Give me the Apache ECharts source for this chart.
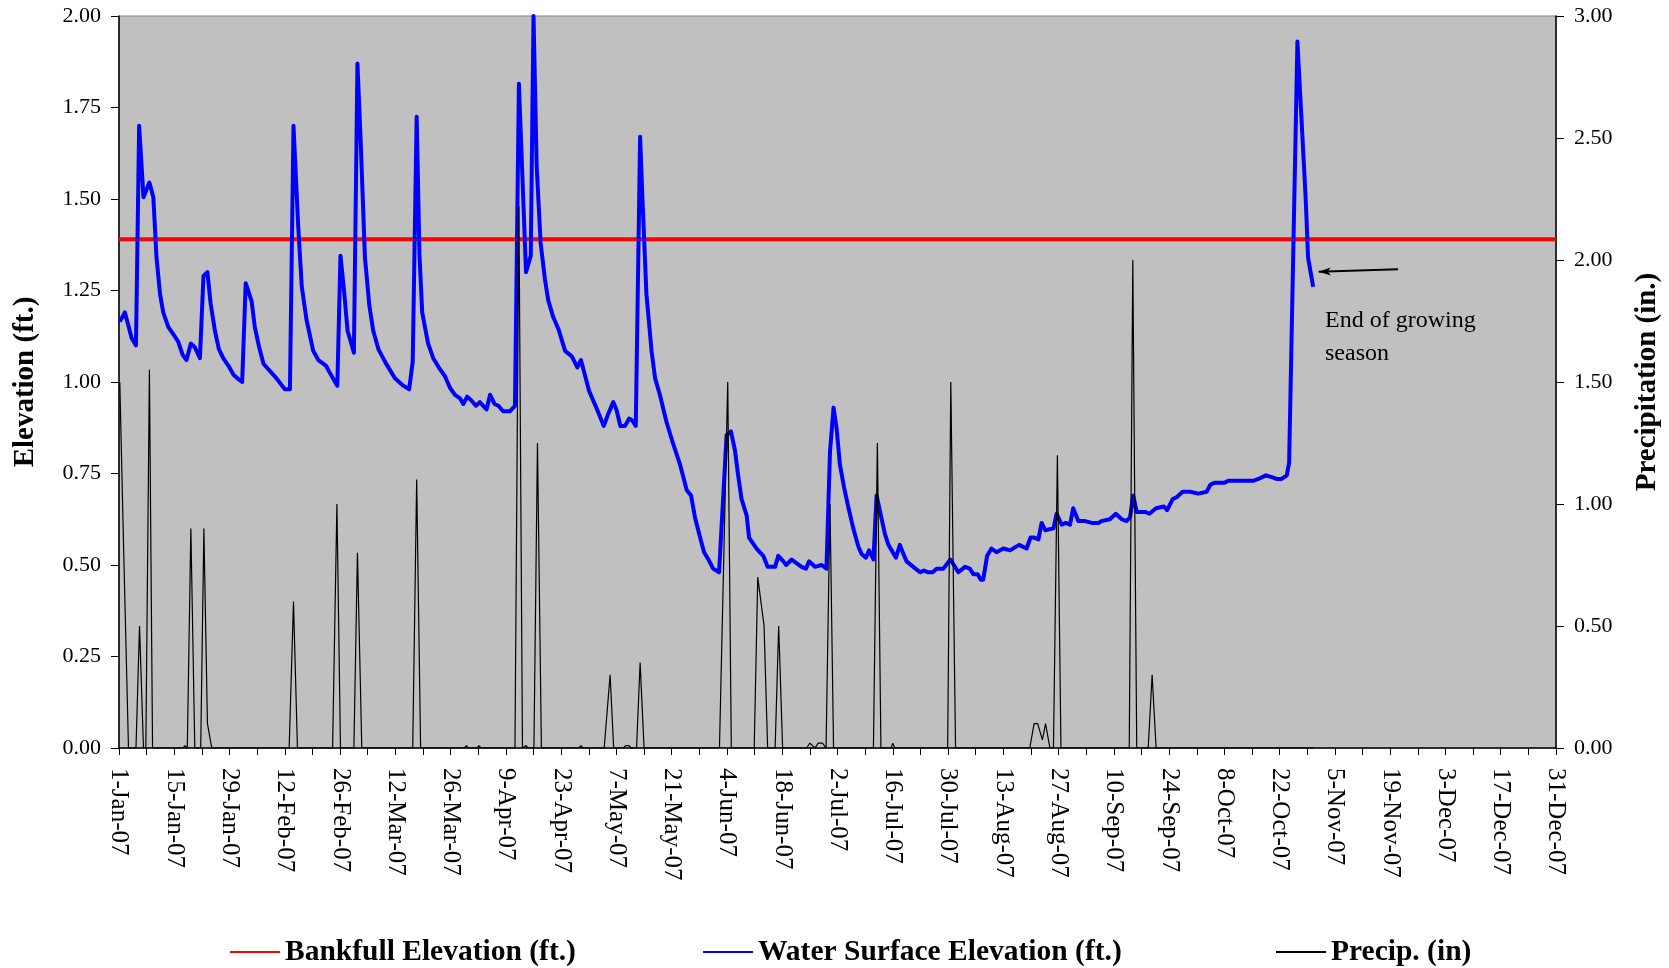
<!DOCTYPE html>
<html>
<head>
<meta charset="utf-8">
<script src="https://cdn.jsdelivr.net/npm/echarts@6/dist/echarts.min.js"></script>
<style>html,body{margin:0;padding:0;background:#fff;}#c{width:1669px;height:968px;}</style>
</head>
<body>
<div id="c"></div>
<script>
// Day-of-year (0 = 1-Jan-07) and values
const wseDay = [0.2,1.5,3.2,4.3,5.1,6.2,7.7,8.7,9.5,10.4,11.2,12.5,13.8,15.0,16.1,17.1,18.2,19.2,20.5,21.4,22.4,23.2,24.3,25.3,26.4,27.7,29.0,30.0,31.2,32.1,33.6,34.4,35.5,36.6,37.8,39.9,42.0,43.3,44.2,45.4,46.3,47.5,49.2,50.5,52.4,53.4,55.3,56.1,57.0,57.9,59.5,60.4,61.3,62.3,63.4,64.4,65.7,67.4,69.9,72.0,73.5,74.4,75.4,76.1,76.8,78.3,79.6,81.3,82.6,83.8,85.1,86.4,87.2,88.2,89.2,90.4,91.4,93.1,94.0,95.1,96.1,97.3,99.0,100.3,101.3,103.1,104.3,105.0,105.8,106.8,107.9,108.7,109.9,111.3,113.0,114.7,116.1,117.0,118.0,119.1,121.1,122.8,124.0,125.2,126.0,127.0,128.2,129.2,130.0,130.9,132.0,132.6,133.6,134.9,135.8,137.0,138.7,140.4,142.1,143.8,144.9,145.9,147.2,148.2,149.3,150.5,152.0,152.4,153.9,155.0,156.0,156.9,157.7,159.0,159.6,161.5,163.2,164.3,166.2,167.0,168.3,169.0,170.4,171.6,172.9,174.0,174.8,176.3,178.0,179.2,180.1,181.0,181.8,182.6,183.7,184.8,186.0,187.3,188.1,189.2,190.0,191.1,191.9,192.9,194.0,194.9,195.7,196.8,197.8,198.7,199.5,201.2,202.9,203.9,205.0,206.1,207.1,208.8,210.6,212.6,214.3,215.5,216.4,217.5,218.3,218.9,219.9,221.0,222.3,224.0,225.7,228.0,229.9,230.9,231.8,232.9,233.7,234.6,236.7,237.5,238.8,239.8,240.9,241.7,243.0,244.7,246.4,248.1,248.9,251.0,252.5,254.0,255.2,256.1,256.9,257.8,259.9,261.0,262.7,264.7,265.5,266.9,267.9,269.4,271.3,273.4,275.5,276.5,277.6,280.1,281.0,287.3,288.6,290.5,292.0,293.2,294.5,295.8,296.4,296.8,298.5,300.6,301.2,302.5];
const wseFt = [1.165,1.19,1.12,1.10,1.70,1.505,1.545,1.505,1.34,1.24,1.19,1.15,1.13,1.11,1.075,1.06,1.105,1.095,1.065,1.29,1.30,1.215,1.14,1.09,1.065,1.045,1.02,1.01,1.00,1.27,1.22,1.15,1.095,1.05,1.035,1.01,0.98,0.98,1.70,1.425,1.26,1.17,1.085,1.06,1.045,1.025,0.99,1.345,1.25,1.14,1.08,1.87,1.635,1.34,1.21,1.14,1.09,1.055,1.01,0.99,0.98,1.055,1.725,1.35,1.19,1.105,1.065,1.035,1.015,0.985,0.965,0.955,0.94,0.96,0.95,0.935,0.945,0.925,0.965,0.94,0.935,0.92,0.92,0.935,1.815,1.30,1.345,2.00,1.59,1.38,1.28,1.225,1.18,1.145,1.085,1.07,1.04,1.06,1.02,0.975,0.925,0.88,0.915,0.945,0.925,0.88,0.88,0.90,0.895,0.88,1.67,1.50,1.24,1.085,1.01,0.965,0.89,0.83,0.775,0.705,0.69,0.63,0.575,0.535,0.515,0.49,0.48,0.48,0.855,0.865,0.815,0.74,0.68,0.635,0.575,0.545,0.525,0.495,0.495,0.525,0.51,0.50,0.515,0.505,0.495,0.49,0.51,0.495,0.50,0.49,0.81,0.93,0.87,0.775,0.71,0.655,0.60,0.55,0.53,0.52,0.54,0.515,0.69,0.64,0.585,0.555,0.54,0.52,0.555,0.53,0.51,0.495,0.48,0.485,0.48,0.48,0.49,0.49,0.515,0.48,0.495,0.49,0.475,0.475,0.46,0.46,0.525,0.545,0.535,0.545,0.54,0.555,0.545,0.575,0.575,0.57,0.615,0.595,0.60,0.64,0.61,0.615,0.61,0.655,0.62,0.62,0.615,0.615,0.62,0.625,0.64,0.625,0.62,0.63,0.69,0.645,0.645,0.64,0.655,0.66,0.65,0.68,0.685,0.70,0.70,0.695,0.70,0.72,0.725,0.725,0.73,0.73,0.735,0.745,0.74,0.735,0.735,0.745,0.78,0.785,1.93,1.50,1.34,1.26];

const precipDay = [0.2,1.2,2.4,4.3,5.2,6.2,6.8,7.7,8.5,16.2,16.7,17.3,18.2,19.2,20.7,21.5,22.4,23.5,43.1,44.2,45.2,54.1,55.2,56.1,59.5,60.4,61.5,74.4,75.4,76.4,87.5,88.0,88.5,90.7,91.2,91.7,100.3,101.3,102.2,102.6,103.1,103.6,105.1,106.0,107.0,116.5,117.0,117.5,122.9,124.4,125.3,127.8,128.3,129.2,129.7,131.1,132.0,133.0,152.1,154.2,155.1,160.9,161.8,163.4,164.3,166.2,167.1,168.1,174.2,175.0,176.3,177.1,178.2,179.1,179.2,180.1,181.0,191.1,192.1,193.0,195.6,196.0,196.5,209.9,210.7,211.9,230.7,231.8,232.7,233.9,234.7,235.8,236.7,237.7,238.6,255.9,256.8,257.8,260.7,261.7,262.7,302.5];
const precipIn = [1.50,0.80,0,0,0.50,0,0,1.55,0,0,0.01,0,0.90,0,0,0.90,0.10,0,0,0.60,0,0,1.00,0,0,0.80,0,0,1.10,0,0,0.01,0,0,0.01,0,0,2.22,0,0,0.01,0,0,1.25,0,0,0.01,0,0,0.30,0,0,0.01,0.01,0,0,0.35,0,0,1.50,0,0,0.70,0.50,0,0,0.50,0,0,0.02,0,0.02,0.02,0,0,1.00,0,0,1.25,0,0,0.02,0,0,1.50,0,0,0.10,0.10,0.033,0.10,0,0,1.20,0,0,2.00,0,0,0.30,0,0];

const bankfullDay = [0, 364];
const bankfullFt = [1.39, 1.39];

const elevTicks = [0, 2, 0.25];   // min, max, interval
const precipTicks = [0, 3, 0.5];
const dayTicks = [0, 364, 14];    // 1-Jan-07 .. 31-Dec-07, labels every 14 days

const seriesNames = ['Bankfull Elevation (ft.)', 'Water Surface Elevation (ft.)', 'Precip. (in)'];
const note = 'End of growing\nseason';
const arrowFrom = [324.0, 1.308];
const arrowTo = [303.9, 1.301];

const MON = ['Jan','Feb','Mar','Apr','May','Jun','Jul','Aug','Sep','Oct','Nov','Dec'];
const DAY0 = Date.UTC(2007, 0, 1);
function dayLabel(d) {
  const dt = new Date(DAY0 + Math.round(d) * 86400000);
  return dt.getUTCDate() + '-' + MON[dt.getUTCMonth()] + '-07';
}
const zip = (a, b) => a.map((v, i) => [v, b[i]]);
const SERIF = '"Liberation Serif", "Times New Roman", serif';

const legendLefts = [229, 702, 1275];
const legends = seriesNames.map((n, i) => ({
  data: [n],
  left: legendLefts[i], top: 937, padding: 0,
  itemWidth: 50, itemHeight: 14, itemGap: 0,
  itemStyle: { opacity: 0 },
  textStyle: { fontFamily: SERIF, fontWeight: 'bold', fontSize: 29.5, color: '#000' }
}));

const chart = echarts.init(document.getElementById('c'), null, { renderer: 'canvas' });
chart.setOption({
  animation: false,
  backgroundColor: '#ffffff',
  grid: {
    left: 119, right: 113, top: 16, bottom: 220,
    show: true, backgroundColor: '#C0C0C0', borderColor: '#808080', borderWidth: 1,
    containLabel: false, outerBoundsMode: 'none'
  },
  legend: legends,
  xAxis: {
    type: 'value', min: dayTicks[0], max: dayTicks[1], interval: dayTicks[2],
    axisLine: { show: true, onZero: false, lineStyle: { color: '#000', width: 1.5 } },
    axisTick: { show: true, length: 7, lineStyle: { color: '#000', width: 1 } },
    minorTick: { show: true, splitNumber: 2, length: 7, lineStyle: { color: '#000', width: 1 } },
    splitLine: { show: false },
    minorSplitLine: { show: false },
    axisLabel: {
      rotate: -90, margin: 20, color: '#000', fontFamily: SERIF, fontSize: 25,
      formatter: dayLabel
    }
  },
  yAxis: [
    {
      type: 'value', position: 'left', min: elevTicks[0], max: elevTicks[1], interval: elevTicks[2],
      name: 'Elevation (ft.)', nameLocation: 'middle', nameGap: 79,
      nameTextStyle: { fontFamily: SERIF, fontWeight: 'bold', fontSize: 29, color: '#000' },
      axisLine: { show: true, lineStyle: { color: '#000', width: 1.5 } },
      axisTick: { show: true, length: 8, lineStyle: { color: '#000' } },
      splitLine: { show: false },
      axisLabel: { margin: 18, color: '#000', fontFamily: SERIF, fontSize: 22, formatter: v => v.toFixed(2) }
    },
    {
      type: 'value', position: 'right', min: precipTicks[0], max: precipTicks[1], interval: precipTicks[2],
      name: 'Precipitation (in.)', nameLocation: 'middle', nameGap: 77,
      nameTextStyle: { fontFamily: SERIF, fontWeight: 'bold', fontSize: 29, color: '#000' },
      axisLine: { show: true, lineStyle: { color: '#000', width: 1.5 } },
      axisTick: { show: true, length: 8, lineStyle: { color: '#000' } },
      splitLine: { show: false },
      axisLabel: { margin: 18, color: '#000', fontFamily: SERIF, fontSize: 22, formatter: v => v.toFixed(2) }
    }
  ],
  series: [
    {
      name: seriesNames[0], type: 'line', yAxisIndex: 0, symbol: 'none', z: 2,
      data: zip(bankfullDay, bankfullFt),
      lineStyle: { color: '#FF0000', width: 4 }, itemStyle: { color: '#FF0000' }
    },
    {
      name: seriesNames[1], type: 'line', yAxisIndex: 0, symbol: 'none', z: 3,
      data: zip(wseDay, wseFt),
      lineStyle: { color: '#0000FF', width: 4, join: 'round' }, itemStyle: { color: '#0000FF' },
      markLine: {
        silent: true, symbol: ['none', 'arrow'], symbolSize: [6, 12],
        label: { show: false },
        lineStyle: { color: '#000', width: 2, type: 'solid' },
        data: [[{ coord: arrowFrom }, { coord: arrowTo }]]
      }
    },
    {
      name: seriesNames[2], type: 'line', yAxisIndex: 1, symbol: 'none', z: 4,
      data: zip(precipDay, precipIn),
      lineStyle: { color: '#000000', width: 1.2 }, itemStyle: { color: '#000000' }
    }
  ],
  graphic: [
    {
      type: 'text', left: 1325, top: 304, z: 10,
      style: { text: note, fontFamily: SERIF, fontSize: 24, lineHeight: 33, fill: '#000' }
    }
  ]
});
</script>
</body>
</html>
